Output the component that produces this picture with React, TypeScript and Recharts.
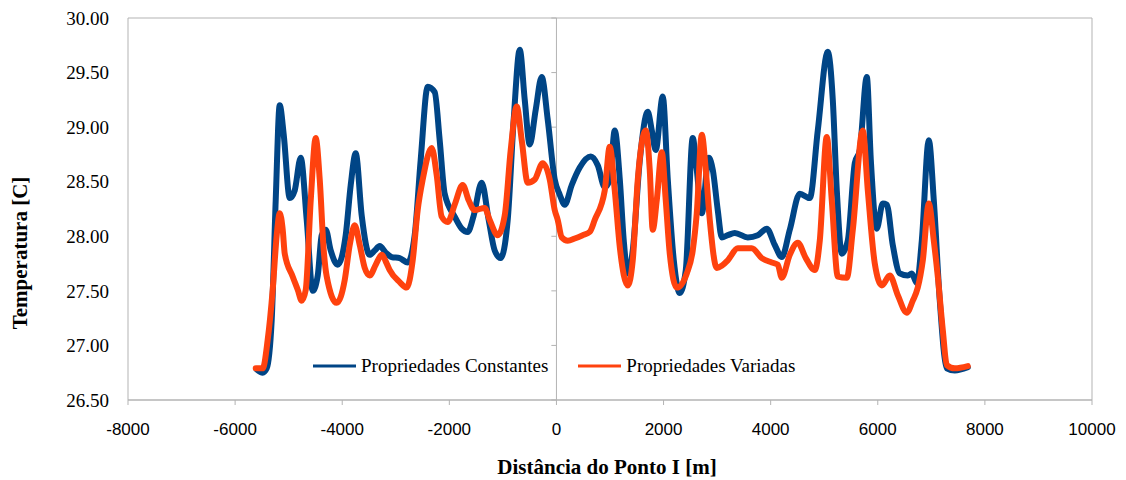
import React from "react";
import {
  LineChart,
  Line,
  XAxis,
  YAxis,
  Legend,
  Label,
  ReferenceLine,
  ReferenceArea,
} from "recharts";

// Distance from point I [m] and temperature [C], constant properties
const constDist = [
  -5597, -5485, -5410, -5317, -5242, -5167, -5092, -4980, -4887, -4775, -4663, -4551, -4457,
  -4383, -4308, -4215, -4084, -3935, -3841, -3748, -3636, -3487, -3393, -3300, -3188, -3076,
  -2927, -2777, -2647, -2535, -2404, -2273, -2180, -2087, -1900, -1769, -1657, -1545, -1396,
  -1265, -1153, -1041, -910, -798, -685, -592, -499, -387, -275, -163, -32, 62, 155, 286, 435,
  641, 771, 902, 995, 1089, 1183, 1257, 1332, 1425, 1557, 1705, 1780, 1854, 1985, 2079, 2191,
  2303, 2415, 2545, 2620, 2714, 2844, 2919, 3012, 3087, 3199, 3330, 3573, 3759, 3927, 4077,
  4208, 4357, 4544, 4731, 4880, 5067, 5160, 5235, 5328, 5440, 5571, 5664, 5795, 5870, 5981,
  6093, 6168, 6280, 6411, 6561, 6635, 6729, 6822, 6953, 7046, 7158, 7289, 7438, 7681,
];
const constTemp = [
  26.78, 26.75, 26.79, 27.23, 28.33, 29.2, 28.93, 28.35, 28.42, 28.72, 28.15, 27.5, 27.64,
  28.01, 28.06, 27.87, 27.74, 28.01, 28.47, 28.76, 28.19, 27.83, 27.87, 27.91, 27.85, 27.81,
  27.8, 27.76, 28.01, 28.7, 29.37, 29.32, 28.88, 28.39, 28.18, 28.07, 28.04, 28.19, 28.49,
  28.15, 27.87, 27.8, 28.15, 29.07, 29.71, 29.25, 28.84, 29.16, 29.46, 29.07, 28.52, 28.38,
  28.29, 28.47, 28.63, 28.73, 28.65, 28.45, 28.52, 28.97, 28.52, 27.96, 27.66, 27.87, 28.7,
  29.14, 28.97, 28.79, 29.28, 28.52, 27.78, 27.48, 27.69, 28.9, 28.61, 28.21, 28.72, 28.61,
  28.24, 27.99, 28.01, 28.03, 27.99, 28.01, 28.07, 27.92, 27.81, 28.06, 28.39, 28.35, 28.97,
  29.69, 29.25, 28.42, 27.84, 27.96, 28.67, 28.79, 29.46, 28.7, 28.07, 28.3, 28.29, 27.92,
  27.66, 27.64, 27.66, 27.57, 27.96, 28.88, 28.33, 27.41, 26.79, 26.77, 26.8,
];

// Distance from point I [m] and temperature [C], varying properties
const varDist = [
  -5615, -5485, -5392, -5298, -5223, -5167, -5111, -5073, -4924, -4831, -4756, -4681, -4588,
  -4495, -4420, -4345, -4289, -4103, -3953, -3860, -3767, -3673, -3580, -3487, -3374, -3262,
  -3169, -3113, -2927, -2796, -2684, -2591, -2497, -2329, -2236, -2143, -2031, -1900, -1751,
  -1639, -1527, -1340, -1246, -1097, -966, -854, -742, -648, -536, -405, -256, -125, -32, 24,
  99, 211, 342, 491, 622, 715, 902, 995, 1089, 1183, 1332, 1425, 1519, 1669, 1742, 1798, 1873,
  1967, 2041, 2116, 2247, 2434, 2545, 2620, 2714, 2788, 2863, 2994, 3087, 3199, 3386, 3647,
  3834, 4021, 4133, 4208, 4357, 4507, 4656, 4824, 4917, 5048, 5141, 5254, 5422, 5534, 5720,
  5814, 5944, 6075, 6224, 6374, 6542, 6654, 6747, 6841, 6953, 7046, 7121, 7214, 7289, 7438,
  7681,
];
const varTemp = [
  26.79, 26.79, 27.05, 27.51, 28.01, 28.21, 28.06, 27.84, 27.63, 27.51, 27.41, 27.51, 28.33,
  28.9, 28.52, 27.87, 27.63, 27.39, 27.6, 27.92, 28.1, 27.92, 27.71, 27.64, 27.74, 27.83,
  27.75, 27.69, 27.58, 27.53, 27.78, 28.24, 28.52, 28.81, 28.56, 28.18, 28.13, 28.29, 28.47,
  28.33, 28.24, 28.26, 28.15, 28.01, 28.19, 28.79, 29.19, 28.88, 28.49, 28.52, 28.67, 28.52,
  28.24, 28.15, 27.99, 27.96, 27.98, 28.01, 28.04, 28.15, 28.42, 28.82, 28.42, 27.9, 27.55,
  27.78, 28.52, 28.97, 28.61, 28.06, 28.33, 28.77, 28.33, 27.84, 27.53, 27.66, 27.87, 28.21,
  28.93, 28.61, 28.15, 27.71, 27.73, 27.78, 27.89, 27.89, 27.8, 27.76, 27.74, 27.62, 27.83,
  27.94, 27.8, 27.69, 27.96, 28.91, 28.33, 27.63, 27.62, 28.06, 28.97, 28.42, 27.75, 27.55,
  27.64, 27.46, 27.3, 27.41, 27.53, 27.78, 28.3, 27.96, 27.63, 27.14, 26.82, 26.79, 26.81,
];

const xTicks = [-8000, -6000, -4000, -2000, 0, 2000, 4000, 6000, 8000, 10000];
const yTicks = [26.5, 27.0, 27.5, 28.0, 28.5, 29.0, 29.5, 30.0];

const seriesNames = ["Propriedades Constantes", "Propriedades Variadas"];
const xTitle = "Distância do Ponto I [m]";
const yTitle = "Temperatura [C]";

const BLUE = "#004586";
const ORANGE = "#ff420e";
const FRAME = "#b3b3b3";
const SERIF = "'Liberation Serif', 'Times New Roman', serif";
const SANS = "'Liberation Sans', Arial, sans-serif";

const constData = constDist.map((x, i) => ({ x, t: constTemp[i] }));
const varData = varDist.map((x, i) => ({ x, t: varTemp[i] }));

// length of the small y tick marks on the x = 0 axis, in metres
const Y_TICK_LEN = 95;

function XTitle(props: any) {
  const vb = props.viewBox || {};
  return (
    <text
      x={vb.x + vb.width / 2 - 3}
      y={vb.y + vb.height - 6}
      textAnchor="middle"
      fontFamily={SERIF}
      fontWeight="bold"
      fontSize={21}
      fill="#000"
    >
      {xTitle}
    </text>
  );
}

function YTitle(props: any) {
  const vb = props.viewBox || {};
  const cx = vb.x;
  const cy = vb.y + vb.height / 2 + 44;
  return (
    <text
      transform={`translate(${cx}, ${cy}) rotate(-90)`}
      textAnchor="middle"
      dominantBaseline="central"
      fontFamily={SERIF}
      fontWeight="bold"
      fontSize={21}
      fill="#000"
    >
      {yTitle}
    </text>
  );
}

function LegendContent(props: any) {
  const payload = props.payload || [];
  return (
    <div
      style={{
        display: "flex",
        alignItems: "center",
        fontFamily: SERIF,
        fontSize: 19,
        lineHeight: "22px",
        color: "#000",
        whiteSpace: "nowrap",
      }}
    >
      {payload.map((item: any, i: number) => (
        <div
          key={i}
          style={{ display: "flex", alignItems: "center", marginLeft: i === 0 ? 0 : 30 }}
        >
          <svg width={43} height={6} style={{ display: "block" }}>
            <line x1={0} x2={43} y1={3} y2={3} stroke={item.color} strokeWidth={3} />
          </svg>
          <span style={{ marginLeft: 5 }}>{item.value}</span>
        </div>
      ))}
    </div>
  );
}

export default function App() {
  return (
    <div style={{ position: "absolute", left: 0, top: 0, width: 1126, height: 480, background: "#fff" }}>
      <LineChart
        width={1126}
        height={480}
        margin={{ top: 18, right: 34, bottom: 0, left: 20 }}
        style={{ fontFamily: SERIF }}
      >
        <ReferenceArea
          x1={-8000}
          x2={10000}
          y1={26.5}
          y2={30}
          fill="none"
          stroke={FRAME}
          strokeWidth={1}
          fillOpacity={0}
          strokeOpacity={1}
        />
        <XAxis
          dataKey="x"
          type="number"
          domain={[-8000, 10000]}
          ticks={xTicks}
          interval={0}
          height={80}
          tickSize={5}
          tickMargin={18}
          axisLine={{ stroke: FRAME }}
          tickLine={{ stroke: FRAME }}
          tick={{ fontFamily: SANS, fontSize: 17, fill: "#000" }}
          allowDataOverflow
        >
          <Label content={XTitle} />
        </XAxis>
        <YAxis
          type="number"
          domain={[26.5, 30]}
          ticks={yTicks}
          interval={0}
          width={108}
          axisLine={false}
          tickLine={false}
          tickSize={0}
          tickMargin={19}
          tickFormatter={(v: number) => v.toFixed(2)}
          tick={{ fontFamily: SERIF, fontSize: 19, fill: "#000" }}
          allowDataOverflow
        >
          <Label content={YTitle} />
        </YAxis>
        <ReferenceLine x={0} stroke={FRAME} strokeWidth={1} />
        {yTicks.map((v) => (
          <ReferenceLine
            key={v}
            segment={[
              { x: -Y_TICK_LEN, y: v },
              { x: 0, y: v },
            ]}
            stroke={FRAME}
            strokeWidth={1}
          />
        ))}
        <Legend
          layout="horizontal"
          verticalAlign="middle"
          align="center"
          wrapperStyle={{ left: 313, top: 355, width: "auto" }}
          content={LegendContent}
        />
        <Line
          data={constData}
          dataKey="t"
          name={seriesNames[0]}
          type="monotone"
          stroke={BLUE}
          strokeWidth={6}
          dot={false}
          activeDot={false}
          strokeLinejoin="round"
          strokeLinecap="round"
          isAnimationActive={false}
        />
        <Line
          data={varData}
          dataKey="t"
          name={seriesNames[1]}
          type="monotone"
          stroke={ORANGE}
          strokeWidth={6}
          dot={false}
          activeDot={false}
          strokeLinejoin="round"
          strokeLinecap="round"
          isAnimationActive={false}
        />
      </LineChart>
    </div>
  );
}
